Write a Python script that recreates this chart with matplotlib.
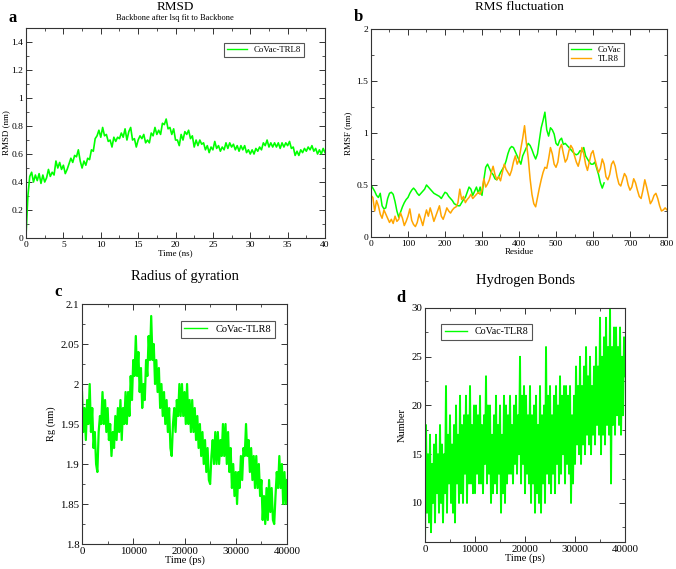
import numpy as np
import matplotlib
matplotlib.use("Agg")
import matplotlib.pyplot as plt
from matplotlib.ticker import MultipleLocator, FormatStrFormatter


OUTPUT_FILE = "out.png"

GREEN = "#00ff00"
ORANGE = "#ffa500"
FRAME = "#333333"

# (a) RMSD, one value every 0.25 ns
rmsd_nm = [
    0.02, 0.30, 0.44, 0.47, 0.40, 0.45, 0.41, 0.46, 0.39,
    0.45, 0.40, 0.43, 0.49, 0.44, 0.47, 0.45, 0.55,
    0.50, 0.54, 0.49, 0.52, 0.46, 0.49, 0.53, 0.57,
    0.54, 0.59, 0.58, 0.63, 0.55, 0.50, 0.55, 0.52,
    0.57, 0.56, 0.63, 0.62, 0.71, 0.73, 0.77, 0.72,
    0.79, 0.73, 0.74, 0.69, 0.70, 0.65, 0.72, 0.69,
    0.72, 0.71, 0.75, 0.72, 0.78, 0.70, 0.76, 0.79,
    0.70, 0.71, 0.65, 0.70, 0.73, 0.71, 0.74, 0.68,
    0.70, 0.68, 0.75, 0.73, 0.79, 0.74, 0.77, 0.74,
    0.82, 0.81, 0.85, 0.78, 0.79, 0.74, 0.78, 0.70,
    0.70, 0.66, 0.74, 0.70, 0.76, 0.74, 0.77, 0.71,
    0.73, 0.65, 0.70, 0.66, 0.70, 0.67, 0.68, 0.63,
    0.66, 0.61, 0.65, 0.63, 0.69, 0.64, 0.66, 0.62,
    0.65, 0.63, 0.68, 0.64, 0.68, 0.65, 0.67, 0.63,
    0.66, 0.62, 0.66, 0.63, 0.66, 0.61, 0.63, 0.60,
    0.63, 0.60, 0.64, 0.62, 0.65, 0.63, 0.68, 0.66,
    0.70, 0.65, 0.68, 0.65, 0.68, 0.65, 0.68, 0.64,
    0.68, 0.65, 0.68, 0.66, 0.69, 0.64, 0.65, 0.59,
    0.62, 0.59, 0.63, 0.61, 0.64, 0.62, 0.65, 0.63,
    0.66, 0.62, 0.64, 0.60, 0.63, 0.60, 0.64, 0.61,
]

# (b) RMSF, one value every 5 residues
rmsf_covac = [
    0.50, 0.47, 0.44, 0.40, 0.38, 0.42, 0.30, 0.27, 0.28, 0.37,
    0.42, 0.43, 0.41, 0.34, 0.25, 0.19, 0.24, 0.29, 0.33, 0.36,
    0.38, 0.42, 0.45, 0.47, 0.45, 0.42, 0.40, 0.42, 0.44, 0.46,
    0.50, 0.48, 0.46, 0.44, 0.42, 0.41, 0.40, 0.39, 0.37, 0.40,
    0.43, 0.42, 0.39, 0.37, 0.35, 0.32, 0.31, 0.30, 0.30, 0.33,
    0.36, 0.38, 0.43, 0.48, 0.46, 0.40, 0.44, 0.48, 0.42, 0.48,
    0.40, 0.55, 0.67, 0.70, 0.66, 0.62, 0.60, 0.56, 0.55, 0.58,
    0.62, 0.65, 0.68, 0.73, 0.80, 0.85, 0.87, 0.86, 0.82, 0.78,
    0.74, 0.70, 0.78, 0.82, 0.86, 0.90, 0.88, 0.84, 0.79, 0.75,
    0.80, 0.93, 1.05, 1.12, 1.20, 1.03, 0.97, 1.05, 1.03, 0.99,
    0.90, 0.88, 0.93, 0.95, 0.89, 0.90, 0.88, 0.86, 0.84, 0.82,
    0.80, 0.79, 0.80, 0.83, 0.82, 0.86, 0.78, 0.75, 0.72, 0.70,
    0.70, 0.72, 0.66, 0.60, 0.52, 0.47, 0.52,
]
rmsf_tlr8 = [
    0.40, 0.38, 0.25, 0.35, 0.30, 0.22, 0.18, 0.26, 0.22, 0.18,
    0.14, 0.17, 0.13, 0.20, 0.15, 0.17, 0.23, 0.18, 0.11, 0.15,
    0.20, 0.27, 0.16, 0.12, 0.10, 0.14, 0.22, 0.17, 0.11, 0.19,
    0.26, 0.20, 0.28, 0.22, 0.15, 0.20, 0.25, 0.30, 0.20, 0.17,
    0.22, 0.28, 0.25, 0.23, 0.26, 0.28, 0.29, 0.33, 0.46, 0.36,
    0.39, 0.33, 0.36, 0.38, 0.41, 0.37, 0.39, 0.41, 0.43, 0.41,
    0.45, 0.56, 0.48, 0.51, 0.55, 0.62, 0.68, 0.60, 0.55, 0.58,
    0.54, 0.62, 0.70, 0.65, 0.62, 0.59, 0.64, 0.72, 0.78, 0.70,
    0.74, 0.85, 0.95, 1.07, 0.90, 0.76, 0.56, 0.41, 0.32, 0.29,
    0.38, 0.47, 0.55, 0.62, 0.67, 0.66, 0.75, 0.86, 0.80, 0.70,
    0.67, 0.72, 0.85, 0.89, 0.80, 0.72, 0.75, 0.83, 0.88, 0.85,
    0.78, 0.72, 0.68, 0.75, 0.86, 0.80, 0.70, 0.64, 0.72, 0.80,
    0.83, 0.75, 0.68, 0.62, 0.66, 0.75, 0.70, 0.58, 0.55, 0.60,
    0.70, 0.73, 0.68, 0.58, 0.51, 0.49, 0.55, 0.61, 0.58, 0.50,
    0.45, 0.48, 0.56, 0.52, 0.45, 0.39, 0.37, 0.45, 0.55, 0.48,
    0.40, 0.32, 0.35, 0.40, 0.42, 0.37, 0.30, 0.25, 0.26, 0.28,
    0.26,
]

# (c) radius of gyration, one value every 250 ps
rg_nm = [
    1.99, 1.94, 1.97, 1.93, 1.98, 1.95, 2.00, 1.94, 1.97, 1.92,
    1.94, 1.90, 1.89, 1.94, 1.96, 1.95, 1.99, 1.95, 1.98, 1.94,
    1.97, 1.93, 1.95, 1.91, 1.94, 1.92, 1.96, 1.93, 1.97, 1.94,
    1.98, 1.93, 1.97, 1.95, 1.99, 1.95, 1.99, 1.96, 2.01, 1.98,
    2.03, 2.01, 2.06, 2.01, 2.04, 1.99, 2.02, 1.97, 2.00, 1.98,
    2.03, 2.01, 2.06, 2.03, 2.085, 2.03, 2.05, 2.00, 2.03, 1.99,
    2.02, 1.97, 2.00, 1.96, 1.99, 1.95, 1.98, 1.94, 1.97, 1.92,
    1.91, 1.95, 1.97, 1.94, 1.98, 1.96, 2.00, 1.96, 2.00, 1.96,
    1.99, 1.95, 2.00, 1.95, 1.98, 1.94, 1.98, 1.94, 1.97, 1.93,
    1.96, 1.92, 1.95, 1.91, 1.94, 1.90, 1.93, 1.89, 1.92, 1.88,
    1.875, 1.91, 1.93, 1.90, 1.94, 1.90, 1.94, 1.90, 1.93, 1.91,
    1.95, 1.91, 1.95, 1.90, 1.94, 1.89, 1.92, 1.87, 1.90, 1.86,
    1.89, 1.85, 1.89, 1.87, 1.91, 1.88, 1.92, 1.91, 1.95, 1.91,
    1.93, 1.89, 1.92, 1.88, 1.91, 1.87, 1.91, 1.87, 1.90, 1.86,
    1.88, 1.83, 1.86, 1.825, 1.87, 1.83, 1.88, 1.84, 1.87, 1.83,
    1.825, 1.86, 1.89, 1.87, 1.91, 1.87, 1.90, 1.85, 1.89, 1.85,
    1.88,
]

# (d) hydrogen bonds, one value every 200 ps
hbonds = [
    6, 18, 9, 15, 8, 17, 7, 14, 10, 16,
    8, 17, 11, 15, 9, 18, 10, 16, 8, 15,
    11, 22, 9, 17, 12, 19, 10, 16, 9, 18,
    8, 20, 12, 17, 10, 21, 11, 18, 10, 19,
    13, 21, 10, 19, 12, 22, 12, 18, 11, 20,
    11, 20, 13, 19, 12, 21, 12, 18, 11, 19,
    14, 23, 12, 20, 13, 20, 10, 17, 11, 19,
    12, 21, 11, 18, 13, 20, 9, 17, 11, 21,
    10, 20, 12, 19, 13, 21, 13, 18, 12, 20,
    14, 21, 13, 19, 15, 25, 12, 21, 14, 22,
    11, 21, 13, 19, 12, 22, 10, 19, 12, 20,
    9, 21, 11, 18, 10, 22, 9, 19, 12, 20,
    10, 26, 13, 21, 12, 22, 11, 19, 13, 21,
    11, 22, 14, 20, 12, 23, 13, 21, 15, 22,
    12, 22, 14, 21, 13, 22, 10, 19, 12, 21,
    14, 24, 16, 22, 15, 25, 14, 22, 16, 24,
    15, 26, 17, 23, 16, 25, 15, 22, 17, 24,
    16, 26, 18, 24, 17, 29, 15, 25, 17, 27,
    16, 29, 18, 26, 17, 30, 12, 26, 18, 28,
    17, 28, 19, 26, 18, 28, 17, 25, 19, 27,
    23,
]


def style_axes(ax, xmaj, ymaj, size):
    ax.xaxis.set_major_locator(MultipleLocator(xmaj))
    ax.xaxis.set_minor_locator(MultipleLocator(xmaj / 2))
    ax.yaxis.set_major_locator(MultipleLocator(ymaj))
    ax.yaxis.set_minor_locator(MultipleLocator(ymaj / 2))
    ax.yaxis.set_major_formatter(FormatStrFormatter("%g"))
    ax.xaxis.set_major_formatter(FormatStrFormatter("%g"))
    ax.tick_params(which="both", direction="in", top=True, right=True,
                   color=FRAME, labelsize=size, pad=2)
    ax.tick_params(which="major", length=4.5, width=0.7)
    ax.tick_params(which="minor", length=2.2, width=0.6)
    for spine in ax.spines.values():
        spine.set_color(FRAME)
        spine.set_linewidth(0.8)


def add_legend(ax, loc, anchor, size):
    leg = ax.legend(loc=loc, bbox_to_anchor=anchor, fontsize=size,
                    fancybox=False, framealpha=1, edgecolor="#555555",
                    borderpad=0.35, handlelength=2.2, handletextpad=0.8,
                    labelspacing=0.1, borderaxespad=0)
    leg.get_frame().set_linewidth(0.8)
    for line in leg.get_lines():
        line.set_linewidth(1.0)


def main():
    plt.rcParams["font.family"] = ["Liberation Serif", "DejaVu Serif"]

    fig = plt.figure(figsize=(6.76, 5.69), dpi=100)

    # panel a
    ax = fig.add_axes([0.0385, 0.5817, 0.4423, 0.369])
    t = np.linspace(0, 40, len(rmsd_nm))
    ax.plot(t, rmsd_nm, color=GREEN, lw=1.2, label="CoVac-TRL8")
    ax.set_xlim(0, 40)
    ax.set_ylim(0, 1.5)
    style_axes(ax, 5, 0.2, 6.8)
    ax.set_xlabel("Time (ns)", fontsize=6.5, labelpad=0)
    ax.set_ylabel("RMSD (nm)", fontsize=6.5, labelpad=1)
    add_legend(ax, "upper right", (0.93, 0.929), 6.3)

    # panel b
    ax = fig.add_axes([0.5488, 0.5835, 0.4379, 0.3656])
    res_covac = np.arange(len(rmsf_covac)) * 5
    res_tlr8 = np.arange(len(rmsf_tlr8)) * 5
    ax.plot(res_covac, rmsf_covac, color=GREEN, lw=1.1, label="CoVac")
    ax.plot(res_tlr8, rmsf_tlr8, color=ORANGE, lw=1.1, label="TLR8")
    ax.set_xlim(0, 800)
    ax.set_ylim(0, 2)
    style_axes(ax, 100, 0.5, 6.8)
    ax.set_xlabel("Residue", fontsize=6.5, labelpad=0)
    ax.set_ylabel("RMSF (nm)", fontsize=6.5, labelpad=3)
    add_legend(ax, "upper right", (0.855, 0.933), 6.3)

    # panel c
    ax = fig.add_axes([0.1213, 0.0439, 0.3033, 0.4218])
    t = np.linspace(0, 40000, len(rg_nm))
    ax.plot(t, rg_nm, color=GREEN, lw=1.6, label="CoVac-TLR8")
    ax.set_xlim(0, 40000)
    ax.set_ylim(1.8, 2.1)
    style_axes(ax, 10000, 0.05, 7.8)
    ax.set_xlabel("Time (ps)", fontsize=7.5, labelpad=0)
    ax.set_ylabel("Rg (nm)", fontsize=7.5, labelpad=3)
    add_legend(ax, "upper right", (0.941, 0.929), 7.5)

    # panel d
    ax = fig.add_axes([0.6287, 0.0475, 0.2959, 0.4112])
    t = np.linspace(0, 40000, len(hbonds))
    ax.plot(t, hbonds, color=GREEN, lw=1.4, label="CoVac-TLR8")
    ax.set_xlim(0, 40000)
    ax.set_ylim(6, 30)
    style_axes(ax, 10000, 5, 7.8)
    ax.set_xlabel("Time (ps)", fontsize=7.5, labelpad=0)
    ax.set_ylabel("Number", fontsize=7.5, labelpad=3)
    add_legend(ax, "upper left", (0.08, 0.932), 7.2)

    # titles and panel letters
    fig.text(0.259, 0.9875, "RMSD", fontsize=9.5, ha="center", va="center")
    fig.text(0.259, 0.968, "Backbone after lsq fit to Backbone", fontsize=6,
             ha="center", va="center")
    fig.text(0.768, 0.987, "RMS fluctuation", fontsize=9.5, ha="center", va="center")
    fig.text(0.273, 0.515, "Radius of gyration", fontsize=10.5, ha="center", va="center")
    fig.text(0.7776, 0.5065, "Hydrogen Bonds", fontsize=10.5, ha="center", va="center")

    for x, y, letter in [(0.019, 0.969, "a"), (0.530, 0.971, "b"),
                         (0.0855, 0.486, "c"), (0.593, 0.477, "d")]:
        fig.text(x, y, letter, fontsize=12, fontweight="bold", ha="center", va="center")

    fig.savefig(OUTPUT_FILE, dpi=100)
    plt.close(fig)


if __name__ == "__main__":
    main()
